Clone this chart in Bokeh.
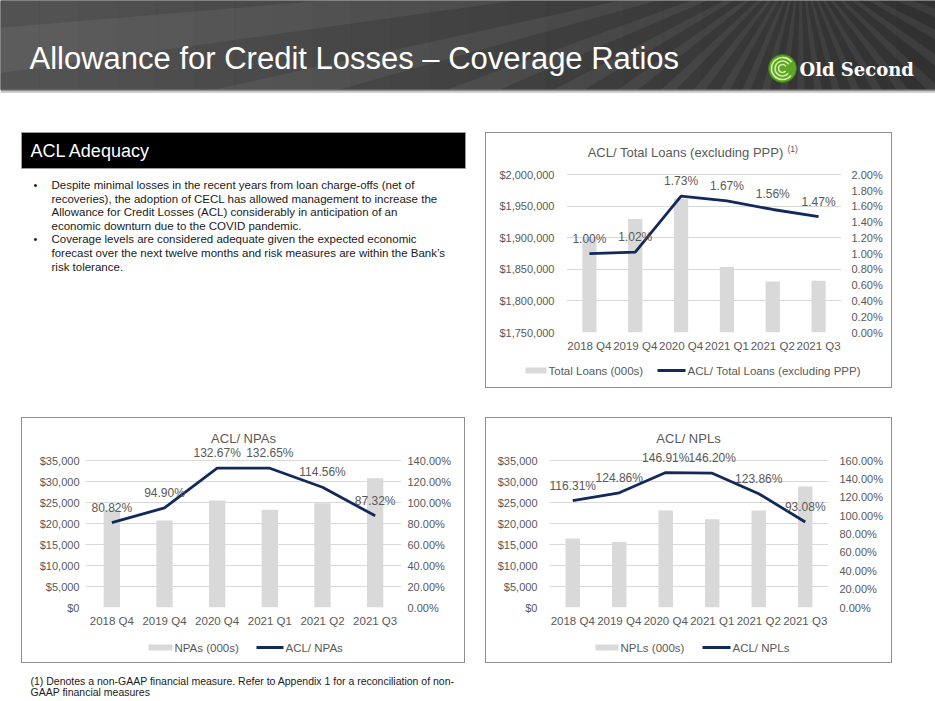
import numpy as np
from bokeh.plotting import figure
from bokeh.layouts import column, row
from bokeh.models import (Range1d, FactorRange, LinearAxis, FixedTicker, NumeralTickFormatter,
                          PrintfTickFormatter, LabelSet, Label, ColumnDataSource, Spacer)
from bokeh.core.properties import value
from bokeh.embed import file_html
from bokeh.resources import INLINE

FONT = "Liberation Sans"
TXT = "#595959"
BAR = "#d9d9d9"
NAVY = "#12295a"
GRID = "#d9d9d9"

# ---------------- data ----------------
quarters = ["2018 Q4", "2019 Q4", "2020 Q4", "2021 Q1", "2021 Q2", "2021 Q3"]
total_loans = [1899000, 1930000, 1962000, 1854000, 1831000, 1832000]
acl_total_loans_pct = [1.00, 1.02, 1.73, 1.67, 1.56, 1.47]
npas = [23300, 20700, 25500, 23300, 24800, 30800]
acl_npas_pct = [80.82, 94.90, 132.67, 132.65, 114.56, 87.32]
npls = [16400, 15600, 23100, 21000, 23100, 28800]
acl_npls_pct = [116.31, 124.86, 146.91, 146.20, 123.86, 93.08]

header_title = "Allowance for Credit Losses \u2013 Coverage Ratios"
brand = "Old Second"
panel_title = "ACL Adequacy"
bullets = [
    ["Despite minimal losses in the recent years from loan charge-offs (net of",
     "recoveries), the adoption of CECL has allowed management to increase the",
     "Allowance for Credit Losses (ACL) considerably in anticipation of an",
     "economic downturn due to the COVID pandemic."],
    ["Coverage levels are considered adequate given the expected economic",
     "forecast over the next twelve months and risk measures are within the Bank\u2019s",
     "risk tolerance."],
]
footnote = ["(1) Denotes a non-GAAP financial measure.  Refer to Appendix 1 for a reconciliation of non-",
            "GAAP financial measures"]


def blank(w, h, xr, yr):
    p = figure(width=w, height=h, x_range=Range1d(*xr), y_range=Range1d(*yr),
               x_axis_type=None, y_axis_type=None, min_border=0,
               toolbar_location=None, output_backend="svg")
    p.outline_line_color = None
    p.background_fill_color = "white"
    p.border_fill_color = "white"
    return p


def make_chart(w, h, mb, frame_px, pad_px, y0, y1, ystep, pmax, pstep, bars, pcts,
               title, tpos, lstand, rstand, sup=None):
    # frame extends pad_px above the top tick so titles / labels stay inside it
    span_px = frame_px - pad_px
    top_left = y1 + (y1 - y0) * pad_px / span_px
    top_pct = pmax + pmax * pad_px / span_px
    src = ColumnDataSource(dict(q=quarters, bar=bars, pct=pcts,
                                lbl=[f"{v:.2f}%" for v in pcts]))
    p = figure(width=w, height=h, x_range=FactorRange(*quarters),
               y_range=Range1d(y0, top_left),
               toolbar_location=None, output_backend="svg",
               min_border_left=mb[0], min_border_right=mb[1],
               min_border_top=0, min_border_bottom=mb[2])
    p.outline_line_color = None
    p.background_fill_color = "white"
    p.border_fill_color = "white"
    p.xgrid.visible = False
    p.ygrid.grid_line_color = GRID
    p.extra_y_ranges = {"pct": Range1d(0, top_pct)}

    la = p.yaxis[0]
    la.ticker = FixedTicker(ticks=list(np.arange(y0, y1 + ystep / 2, ystep)))
    la.formatter = NumeralTickFormatter(format="$0,0")
    la.major_label_standoff = lstand
    ra = LinearAxis(y_range_name="pct",
                    ticker=FixedTicker(ticks=list(np.arange(0, pmax + pstep / 2, pstep))),
                    formatter=PrintfTickFormatter(format="%.2f%%"))
    ra.major_label_standoff = rstand
    p.add_layout(ra, "right")
    xa = p.xaxis[0]
    xa.major_label_standoff = 7
    for ax in [la, ra, xa]:
        ax.axis_line_color = None
        ax.major_tick_line_color = None
        ax.minor_tick_line_color = None
        ax.major_tick_out = 0
        ax.major_tick_in = 0
        ax.major_label_text_color = TXT
        ax.major_label_text_font = FONT
        ax.major_label_text_font_size = "11px"
    xa.major_label_text_font_size = "11.5px"

    p.vbar(x="q", top="bar", bottom=y0, width=0.31, source=src,
           fill_color=BAR, line_color=None)
    p.line(x="q", y="pct", y_range_name="pct", source=src,
           line_color=NAVY, line_width=2.8)
    p.add_layout(LabelSet(x="q", y="pct", y_range_name="pct", text="lbl", source=src,
                          text_align="center", text_baseline="middle", y_offset=15,
                          text_font=value(FONT), text_font_size="12px", text_color=TXT))

    if sup is None:
        p.add_layout(Label(x=tpos[0], y=tpos[1], x_units="screen", y_units="screen",
                           text=title, text_align="center", text_baseline="middle",
                           text_font=FONT, text_font_size="13px", text_color=TXT))
    else:
        p.add_layout(Label(x=tpos[0], y=tpos[1], x_units="screen", y_units="screen",
                           text=title, text_align="right", text_baseline="middle",
                           text_font=FONT, text_font_size="13px", text_color=TXT))
        p.add_layout(Label(x=tpos[0] + 4, y=tpos[1] + 3, x_units="screen", y_units="screen",
                           text=sup, text_align="left", text_baseline="middle",
                           text_font=FONT, text_font_size="8.5px", text_color=TXT))
    return p


def make_legend(w, xr, yr, yc, bar_name, line_name, sw, ln):
    lg = blank(w, 27, xr, yr)
    lg.quad(left=sw[0], right=sw[1], top=yc - 3, bottom=yc + 3, color=BAR, line_color=None)
    lg.segment(x0=ln[0], x1=ln[1], y0=yc, y1=yc, line_color=NAVY, line_width=3)
    lg.text(x=[sw[1] + 2, ln[1] + 2], y=[yc, yc], text=[bar_name, line_name],
            text_font=value(FONT), text_font_size="11.5px", text_color=TXT,
            text_baseline="middle")
    return lg


def boxed(chart, legend):
    return column(row(chart), row(legend), styles={"border": "1px solid #8f8f8f"})


# ---------------- header ----------------
hdr = blank(935, 93, (0, 935), (93, 0))
hdr.quad(left=0, right=935, top=0, bottom=89, color="#303030")
n = 24
for i in range(n):
    hdr.quad(left=i * 935 / n, right=(i + 1) * 935 / n, top=0, bottom=89,
             color="white", alpha=0.17 * (1 - i / n), line_color=None)
fx, fy = 800, -40
xs, ys = [], []
for a in np.linspace(12, 172, 22):
    a0, a1 = np.radians(a), np.radians(a + 3.2)
    xs.append([fx, fx + 1500 * np.cos(a0), fx + 1500 * np.cos(a1)])
    ys.append([fy, fy + 1500 * np.sin(a0), fy + 1500 * np.sin(a1)])
hdr.patches(xs, ys, color="white", alpha=0.06, line_color=None)
hdr.quad(left=0, right=935, top=89, bottom=91, color="#8c8c8c", line_color=None)
hdr.quad(left=0, right=935, top=91, bottom=93, color="#d0d0d0", line_color=None)
hdr.text(x=[29], y=[58], text=[header_title], text_font=value(FONT), text_font_size="31px",
         text_color="white", text_baseline="middle")
hdr.circle(x=782, y=68, radius=14, fill_color="#5ea626", line_color="#3c7a14")
hdr.arc(x=[782] * 3, y=[68] * 3, radius=[4, 7.5, 11], start_angle=0.6, end_angle=5.6,
        line_color="#d3eda8", line_width=1.6)
hdr.text(x=[799], y=[69], text=[brand], text_font=value("DejaVu Serif"),
         text_font_style="bold", text_font_size="18px", text_color="white",
         text_baseline="middle")

# ---------------- left text panel ----------------
pan = blank(485, 324, (0, 485), (417, 93))
pan.quad(left=21, right=465, top=132, bottom=168, color="black", line_color="#9a9a9a")
pan.text(x=[30], y=[150], text=[panel_title], text_font=value(FONT), text_font_size="18px",
         text_color="white", text_baseline="middle")
y = 184.5
for para in bullets:
    pan.text(x=[33], y=[y], text=["\u2022"], text_font=value(FONT), text_font_size="11px",
             text_color="#1a1a1a", text_baseline="middle")
    for line in para:
        pan.text(x=[51], y=[y], text=[line], text_font=value(FONT), text_font_size="11.5px",
                 text_color="#1a1a1a", text_baseline="middle")
        y += 13.6

# ---------------- charts ----------------
ch1 = make_chart(405, 227, (80, 50, 28), 199, 41.3, 1750000, 2000000, 50000, 2.0, 0.2,
                 total_loans, acl_total_loans_pct, "ACL/ Total Loans (excluding PPP)",
                 (217, 180.3), 12, 10, sup="(1)")
lg1 = make_legend(405, (486, 891), (387, 360), 370,
                  "Total Loans (000s)", "ACL/ Total Loans (excluding PPP)",
                  (525, 546), (657, 685))
ch2 = make_chart(442, 217, (63, 63, 28), 189, 42, 0, 35000, 5000, 140, 20,
                 npas, acl_npas_pct, "ACL/ NPAs", (158, 169), 6, 6)
lg2 = make_legend(442, (22, 464), (662, 635), 647, "NPAs (000s)", "ACL/ NPAs",
                  (148, 172), (256, 283))
ch3 = make_chart(405, 217, (63, 63, 28), 189, 42, 0, 35000, 5000, 160, 20,
                 npls, acl_npls_pct, "ACL/ NPLs", (139, 169), 12, 11)
lg3 = make_legend(405, (486, 891), (662, 635), 647, "NPLs (000s)", "ACL/ NPLs",
                  (595, 618), (702, 730))

# ---------------- footnote ----------------
foot = blank(935, 36, (0, 935), (699, 663))
for i, line in enumerate(footnote):
    foot.text(x=[30], y=[680 + 11.5 * i], text=[line], text_font=value(FONT),
              text_font_size="10.5px", text_color="#1a1a1a", text_baseline="middle")

layout = column(
    hdr,
    row(pan, column(Spacer(width=407, height=39), boxed(ch1, lg1),
                    Spacer(width=407, height=29))),
    row(Spacer(width=21, height=246), boxed(ch2, lg2), Spacer(width=20, height=246),
        boxed(ch3, lg3)),
    foot,
)

open("out.html", "w").write(file_html(layout, INLINE))
